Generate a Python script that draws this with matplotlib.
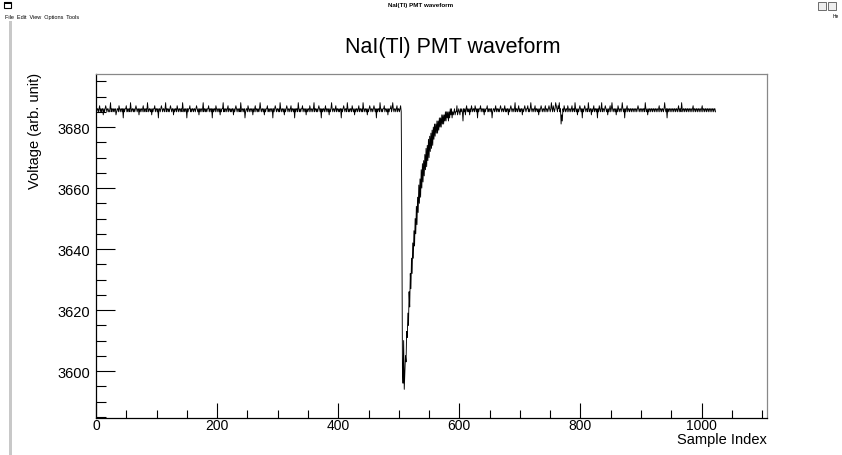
import numpy as np
from matplotlib import pyplot as plt
from matplotlib.ticker import MultipleLocator
from matplotlib.patches import Rectangle

plt.rcParams["font.family"] = ["Liberation Sans", "DejaVu Sans"]

# ADC samples (one value per sample index)
pre_pulse = [
    3686, 3685, 3686, 3686, 3685, 3686, 3687, 3685, 3686, 3685, 3686, 3686, 3684, 3686, 3685, 3686, 3687, 3686, 3685, 3686,
    3686, 3685, 3685, 3686, 3688, 3685, 3686, 3686, 3685, 3686, 3685, 3686, 3686, 3684, 3685, 3686, 3686, 3685, 3687, 3686,
    3685, 3686, 3686, 3685, 3686, 3683, 3686, 3685, 3686, 3686, 3687, 3685, 3686, 3685, 3686, 3686, 3685, 3688, 3686, 3685,
    3686, 3686, 3685, 3686, 3685, 3686, 3687, 3686, 3685, 3686, 3686, 3684, 3686, 3685, 3686, 3686, 3685, 3686, 3687, 3685,
    3686, 3685, 3686, 3686, 3685, 3688, 3686, 3685, 3686, 3686, 3685, 3686, 3684, 3686, 3685, 3686, 3686, 3687, 3685, 3686,
    3686, 3685, 3686, 3683, 3686, 3686, 3685, 3686, 3687, 3686, 3685, 3686, 3686, 3685, 3686, 3688, 3685, 3686, 3686, 3685,
    3686, 3685, 3686, 3687, 3686, 3685, 3686, 3686, 3684, 3686, 3685, 3686, 3686, 3685, 3687, 3686, 3685, 3686, 3686, 3685,
    3686, 3686, 3685, 3688, 3686, 3685, 3686, 3685, 3686, 3686, 3683, 3686, 3685, 3686, 3686, 3687, 3685, 3686, 3685, 3686,
    3686, 3685, 3686, 3686, 3685, 3686, 3687, 3686, 3685, 3686, 3684, 3686, 3685, 3686, 3686, 3685, 3686, 3688, 3685, 3686,
    3686, 3685, 3686, 3685, 3686, 3686, 3687, 3685, 3686, 3686, 3685, 3686, 3683, 3686, 3685, 3686, 3686, 3685, 3687, 3686,
    3685, 3686, 3686, 3685, 3686, 3684, 3686, 3685, 3686, 3686, 3688, 3685, 3686, 3685, 3686, 3686, 3685, 3686, 3687, 3685,
    3686, 3686, 3685, 3686, 3685, 3686, 3686, 3684, 3686, 3685, 3686, 3687, 3686, 3685, 3686, 3686, 3685, 3686, 3685, 3688,
    3686, 3685, 3686, 3686, 3685, 3686, 3683, 3685, 3686, 3686, 3685, 3687, 3686, 3685, 3686, 3686, 3685, 3686, 3686, 3684,
    3686, 3685, 3686, 3687, 3685, 3686, 3686, 3685, 3686, 3685, 3686, 3688, 3686, 3685, 3686, 3686, 3685, 3686, 3684, 3686,
    3685, 3686, 3686, 3687, 3685, 3686, 3685, 3686, 3686, 3685, 3686, 3686, 3683, 3686, 3685, 3686, 3687, 3686, 3685, 3686,
    3686, 3685, 3686, 3685, 3688, 3686, 3685, 3686, 3686, 3685, 3686, 3684, 3686, 3685, 3686, 3687, 3686, 3685, 3686, 3686,
    3685, 3686, 3687, 3685, 3686, 3686, 3685, 3686, 3683, 3686, 3685, 3686, 3686, 3685, 3688, 3686, 3685, 3686, 3685, 3686,
    3686, 3687, 3685, 3686, 3686, 3685, 3686, 3684, 3686, 3685, 3686, 3686, 3685, 3687, 3686, 3685, 3686, 3686, 3685, 3686,
    3688, 3685, 3686, 3686, 3685, 3686, 3685, 3686, 3687, 3686, 3685, 3686, 3683, 3686, 3685, 3686, 3686, 3685, 3686, 3687,
    3685, 3686, 3686, 3685, 3686, 3684, 3686, 3685, 3686, 3688, 3686, 3685, 3686, 3686, 3685, 3686, 3687, 3685, 3686, 3686,
    3685, 3686, 3685, 3686, 3686, 3683, 3686, 3685, 3686, 3687, 3686, 3685, 3686, 3686, 3685, 3688, 3686, 3685, 3686, 3685,
    3686, 3686, 3685, 3687, 3686, 3685, 3686, 3684, 3686, 3685, 3686, 3686, 3685, 3686, 3687, 3685, 3686, 3686, 3685, 3686,
    3685, 3688, 3686, 3685, 3686, 3686, 3685, 3686, 3684, 3686, 3685, 3686, 3687, 3686, 3685, 3686, 3686, 3685, 3686, 3687,
    3686, 3685, 3686, 3683, 3686, 3685, 3686, 3686, 3685, 3688, 3686, 3685, 3686, 3685, 3686, 3686, 3687, 3685, 3686, 3686,
    3685, 3686, 3684, 3686, 3685, 3686, 3686, 3687, 3685, 3686, 3688, 3686, 3685, 3686, 3686, 3685, 3686, 3687, 3685, 3686,
    3686, 3685, 3686, 3687, 3685,
]

pulse = [
    3652, 3601, 3596, 3610, 3594, 3600, 3605, 3603, 3613, 3611,
    3619, 3615, 3626, 3621, 3632, 3627, 3637, 3632, 3642, 3637,
    3646, 3641, 3650, 3645, 3654, 3648, 3657, 3652, 3661, 3655,
    3663, 3657, 3666, 3660, 3668, 3662, 3669, 3664, 3671, 3666,
    3673, 3667, 3674, 3669, 3676, 3670, 3677, 3672, 3678, 3673,
    3679, 3674, 3680, 3676, 3681, 3677, 3681, 3678, 3682, 3678,
    3682, 3679, 3683, 3680, 3683, 3680, 3684, 3681, 3684, 3681,
    3684, 3682, 3685, 3682, 3685, 3683, 3685, 3682, 3685, 3683,
    3686, 3684, 3686, 3683, 3685, 3684, 3685, 3686, 3684, 3685,
    3685, 3687, 3684, 3685, 3686, 3685, 3684, 3686, 3685, 3686,
]

post_pulse = [
    3685, 3682, 3686, 3685, 3686, 3684, 3686, 3687, 3685, 3686, 3685, 3686, 3684, 3686, 3685, 3687, 3686, 3685, 3686, 3686,
    3685, 3687, 3686, 3685, 3686, 3683, 3686, 3685, 3686, 3686, 3687, 3685, 3686, 3686, 3685, 3686, 3684, 3686, 3685, 3686,
    3686, 3687, 3685, 3686, 3685, 3686, 3686, 3685, 3686, 3683, 3685, 3686, 3686, 3685, 3686, 3687, 3685, 3686, 3686, 3685,
    3686, 3685, 3686, 3687, 3686, 3685, 3686, 3686, 3685, 3686, 3687, 3685, 3686, 3685, 3686, 3686, 3684, 3686, 3685, 3686,
    3687, 3686, 3685, 3686, 3686, 3685, 3686, 3688, 3685, 3686, 3686, 3685, 3686, 3687, 3685, 3686, 3685, 3686, 3686, 3684,
    3686, 3685, 3686, 3687, 3686, 3685, 3686, 3686, 3687, 3685, 3686, 3685, 3686, 3688, 3686, 3685, 3686, 3686, 3685, 3686,
    3687, 3685, 3686, 3686, 3685, 3686, 3684, 3686, 3685, 3686, 3687, 3686, 3685, 3686, 3686, 3685, 3686, 3687, 3685, 3686,
    3686, 3685, 3686, 3687, 3686, 3685, 3686, 3688, 3686, 3685, 3687, 3686, 3685, 3686, 3688, 3687, 3686, 3685, 3687, 3686,
    3688, 3685, 3686, 3681, 3684, 3682, 3686, 3685, 3687, 3686, 3685, 3686, 3686, 3685, 3687, 3686, 3685, 3686, 3686, 3685,
    3686, 3687, 3685, 3686, 3686, 3685, 3688, 3686, 3685, 3686, 3684, 3686, 3685, 3686, 3687, 3686, 3685, 3686, 3683, 3686,
    3685, 3686, 3687, 3686, 3685, 3686, 3686, 3685, 3688, 3686, 3685, 3686, 3686, 3684, 3686, 3685, 3686, 3687, 3685, 3686,
    3686, 3685, 3686, 3683, 3686, 3685, 3687, 3686, 3685, 3686, 3688, 3685, 3686, 3686, 3685, 3686, 3687, 3686, 3685, 3686,
    3684, 3686, 3685, 3686, 3687, 3685, 3686, 3688, 3686, 3685, 3686, 3686, 3685, 3686, 3684, 3686, 3685, 3687, 3686, 3685,
    3686, 3686, 3685, 3686, 3688, 3686, 3685, 3686, 3683, 3686, 3685, 3686, 3687, 3685, 3686, 3686, 3685, 3686, 3686, 3685,
    3686, 3686, 3685, 3686, 3686, 3685, 3686, 3686, 3685, 3686, 3687, 3686, 3685, 3686, 3686, 3685, 3686, 3686, 3685, 3686,
    3686, 3685, 3688, 3686, 3685, 3686, 3684, 3686, 3685, 3686, 3686, 3685, 3686, 3686, 3685, 3686, 3686, 3685, 3686, 3686,
    3685, 3686, 3686, 3685, 3686, 3687, 3685, 3686, 3686, 3685, 3686, 3686, 3685, 3686, 3688, 3686, 3685, 3686, 3683, 3686,
    3685, 3686, 3686, 3685, 3686, 3686, 3685, 3686, 3686, 3685, 3686, 3686, 3685, 3686, 3686, 3685, 3686, 3687, 3685, 3686,
    3686, 3685, 3688, 3686, 3685, 3686, 3686, 3685, 3686, 3686, 3685, 3686, 3686, 3685, 3686, 3686, 3685, 3686, 3686, 3685,
    3686, 3687, 3685, 3686, 3686, 3685, 3686, 3686, 3685, 3686, 3686, 3685, 3686, 3686, 3685, 3686, 3687, 3685, 3686, 3686,
    3685, 3686, 3686, 3685, 3686, 3686, 3685, 3686, 3686, 3685, 3686, 3686, 3685, 3686, 3686, 3685, 3686, 3686, 3685,
]

title = "NaI(Tl) PMT waveform"
x_title = "Sample Index"
y_title = "Voltage (arb. unit)"

W, H = 842, 456
adc = np.array(pre_pulse + pulse + post_pulse)
samples = np.arange(len(adc))

fig = plt.figure(figsize=(W / 100, H / 100), dpi=100)

# --- ROOT window chrome ---
fig.text(421 / W, 1 - 5 / H, title, ha="center", va="center", fontsize=4.5, fontweight="bold")
fig.text(5 / W, 1 - 17 / H, "File  Edit  View  Options  Tools", ha="left", va="center", fontsize=4)
fig.text(833 / W, 1 - 17 / H, "He", ha="left", va="center", fontsize=3.5)
fig.patches.append(Rectangle((4 / W, 1 - 9 / H), 7 / W, 6 / H, transform=fig.transFigure,
                             facecolor="white", edgecolor="black", lw=0.8))
fig.patches.append(Rectangle((4 / W, 1 - 5 / H), 7 / W, 2 / H, transform=fig.transFigure,
                             facecolor="black", edgecolor="black", lw=0))
for bx in (818, 828):
    fig.patches.append(Rectangle((bx / W, 1 - 11 / H), 8 / W, 8 / H, transform=fig.transFigure,
                                 facecolor="#eeeeee", edgecolor="#555555", lw=0.6))
fig.patches.append(Rectangle((9 / W, 0), 3 / W, 1 - 22 / H, transform=fig.transFigure,
                             facecolor="#c8c8c8", edgecolor="none"))

# --- plot pad ---
left, right, top, bottom = 96, 767, 75, 419
ax = fig.add_axes([left / W, 1 - bottom / H, (right - left) / W, (bottom - top) / H])
ax.plot(samples, adc, color="black", lw=0.65)

ax.set_xlim(0, 1108)
ax.set_ylim(3584.6, 3697.4)
ax.xaxis.set_major_locator(MultipleLocator(200))
ax.xaxis.set_minor_locator(MultipleLocator(50))
ax.yaxis.set_major_locator(MultipleLocator(20))
ax.yaxis.set_minor_locator(MultipleLocator(5))
ax.tick_params(axis="both", which="both", direction="in", top=False, right=False, width=0.8)
ax.tick_params(axis="x", which="major", length=11, labelsize=10, pad=0)
ax.tick_params(axis="x", which="minor", length=5.5)
ax.tick_params(axis="y", which="major", length=14, labelsize=10.5, pad=4)
ax.tick_params(axis="y", which="minor", length=7)
for side in ("top", "right"):
    ax.spines[side].set_color("#888888")
for spine in ax.spines.values():
    spine.set_linewidth(0.9)

fig.text(453 / W, 1 - 48 / H, title, ha="center", va="center", fontsize=15.5)
fig.text(767 / W, 1 - 440 / H, x_title, ha="right", va="center", fontsize=10.5)
fig.text(35 / W, 1 - 73 / H, y_title, ha="center", va="top", rotation=90, fontsize=10.5)

fig.savefig("out.png", dpi=100)
